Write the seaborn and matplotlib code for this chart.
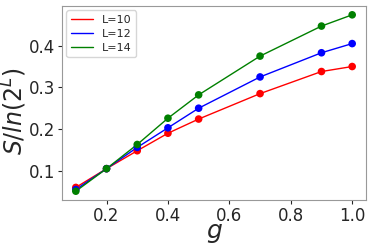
import numpy as np
import pandas as pd
import matplotlib
matplotlib.use("Agg")
import matplotlib.pyplot as plt
import seaborn as sns

# values
g_vals = [0.1, 0.2, 0.3, 0.4, 0.5, 0.7, 0.9, 1.0]
s_L10 = [0.060, 0.105, 0.148, 0.190, 0.224, 0.285, 0.338, 0.350]
s_L12 = [0.055, 0.105, 0.156, 0.203, 0.250, 0.325, 0.383, 0.405]
s_L14 = [0.051, 0.105, 0.163, 0.226, 0.282, 0.375, 0.447, 0.474]
labels = ["L=10", "L=12", "L=14"]
colors = ["red", "blue", "green"]

df = pd.concat([
    pd.DataFrame({"g": g_vals, "S": s, "L": lab})
    for s, lab in zip([s_L10, s_L12, s_L14], labels)
])

sns.set_style("white")
fig, ax = plt.subplots(figsize=(3.74, 2.47), dpi=100)
fig.subplots_adjust(left=62 / 374, right=366 / 374, top=1 - 6 / 247, bottom=1 - 200 / 247)

pal = dict(zip(labels, colors))
sns.lineplot(data=df, x="g", y="S", hue="L", palette=pal, lw=1, ax=ax)
sns.scatterplot(data=df, x="g", y="S", hue="L", palette=pal, s=30,
                edgecolor="none", legend=False, ax=ax, zorder=3)

ax.set_xlabel("$g$", fontsize=18)
ax.xaxis.set_label_coords(0.5, -0.11)
ax.set_ylabel("$S/ln(2^L)$", fontsize=17)
ax.yaxis.set_label_coords(-0.108, 0.46)
ax.tick_params(labelsize=12, length=3, width=0.8, pad=2, left=True, bottom=True)
ax.set_xticks([0.2, 0.4, 0.6, 0.8, 1.0])
ax.set_yticks([0.1, 0.2, 0.3, 0.4])
for sp in ax.spines.values():
    sp.set_color("#999999")
    sp.set_linewidth(0.8)

leg = ax.legend(loc="upper left", fontsize=8, frameon=True, title=None,
                handlelength=2.0, labelspacing=0.35, borderaxespad=0.4)
leg.get_frame().set_edgecolor("#cccccc")

plt.savefig("out.png", dpi=100)
